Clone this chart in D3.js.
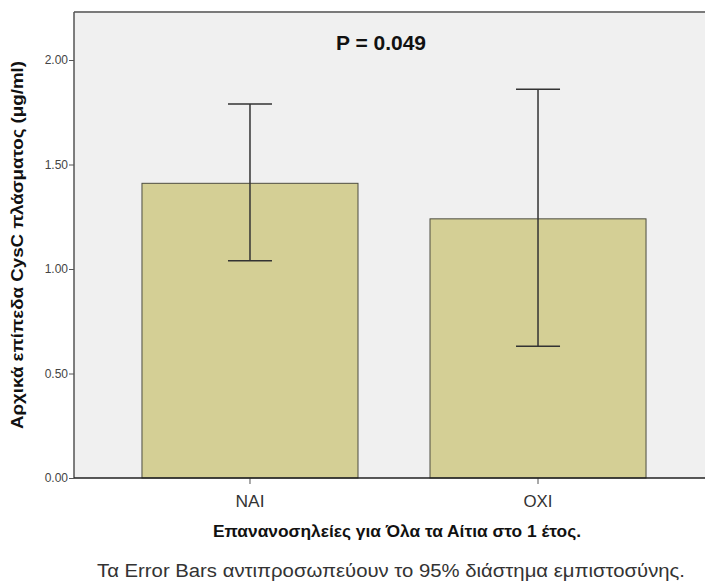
<!DOCTYPE html>
<html><head><meta charset="utf-8">
<script src="https://cdn.jsdelivr.net/npm/d3@7/dist/d3.min.js"></script>
<style>body{margin:0;background:#fff;} svg{display:block;font-family:"Liberation Sans",Arial,sans-serif;}</style>
</head><body><div id="chart"></div>
<script>
const categories = ["NAI", "OXI"];
const means = [1.41, 1.24];
const ciLow = [1.04, 0.63];
const ciHigh = [1.79, 1.86];
const yTicks = [0, 0.5, 1.0, 1.5, 2.0];
const titleText = "P = 0.049";
const yTitle = "Αρχικά επίπεδα CysC πλάσματος (μg/ml)";
const xTitle = "Επανανοσηλείες για Όλα τα Αίτια στο 1 έτος.";
const footnote = "Τα Error Bars αντιπροσωπεύουν το 95% διάστημα εμπιστοσύνης.";

(function(){
const W = 705, H = 581;
const svg = d3.select("#chart").append("svg").attr("width", W).attr("height", H);
const pL = 74, pT = 12, pB = 478, pR = 714;

const y = d3.scaleLinear().domain([0, 2]).range([pB, 60]);
const x = d3.scaleBand().domain(categories).range([pL, pR]).paddingInner(0.25).paddingOuter(0.236);

svg.append("rect").attr("x", pL).attr("y", pT).attr("width", W - pL).attr("height", pB - pT).attr("fill", "#f0f0f0");
svg.append("line").attr("x1", pL).attr("x2", W).attr("y1", pT).attr("y2", pT).attr("stroke", "#7a7a7a").attr("stroke-width", 2);

const data = categories.map((c, i) => ({c, m: means[i], lo: ciLow[i], hi: ciHigh[i]}));

svg.selectAll(".bar").data(data).enter().append("rect")
  .attr("x", d => x(d.c)).attr("y", d => y(d.m))
  .attr("width", x.bandwidth()).attr("height", d => y(0) - y(d.m))
  .attr("fill", "#d4cf95").attr("stroke", "#4d4d40").attr("stroke-width", 1);

const eb = svg.selectAll(".eb").data(data).enter().append("g").attr("stroke", "#333").attr("stroke-width", 1.5);
const cx = d => x(d.c) + x.bandwidth()/2;
eb.append("line").attr("x1", cx).attr("x2", cx).attr("y1", d => y(d.lo)).attr("y2", d => y(d.hi));
eb.append("line").attr("x1", d => cx(d) - 22).attr("x2", d => cx(d) + 22).attr("y1", d => y(d.lo)).attr("y2", d => y(d.lo));
eb.append("line").attr("x1", d => cx(d) - 22).attr("x2", d => cx(d) + 22).attr("y1", d => y(d.hi)).attr("y2", d => y(d.hi));

// y axis
const ya = svg.append("g").attr("transform", `translate(${pL},0)`)
  .call(d3.axisLeft(y).tickValues(yTicks).tickFormat(d3.format(".2f")).tickSize(5).tickSizeOuter(0));
ya.select(".domain").remove();
ya.append("line").attr("x1", 0).attr("x2", 0).attr("y1", pT).attr("y2", pB).attr("stroke", "#555").attr("stroke-width", 1.5);
ya.selectAll(".tick line").attr("stroke", "#555");
ya.selectAll(".tick text").attr("fill", "#444").attr("font-size", 12).attr("font-family", "Liberation Sans, Arial, sans-serif").attr("x", -6);

// x axis
const xa = svg.append("g").attr("transform", `translate(0,${pB})`)
  .call(d3.axisBottom(x).tickSize(6).tickSizeOuter(0));
xa.select(".domain").remove();
xa.append("line").attr("x1", pL).attr("x2", W).attr("y1", 0).attr("y2", 0).attr("stroke", "#222").attr("stroke-width", 1.5);
xa.selectAll(".tick line").attr("stroke", "#555");
xa.selectAll(".tick text").attr("fill", "#333").attr("font-size", 16).attr("font-family", "Liberation Sans, Arial, sans-serif")
  .attr("y", 0).attr("dy", 29).attr("textLength", 29).attr("lengthAdjust", "spacingAndGlyphs");

svg.append("text").attr("x", 381).attr("y", 50).attr("text-anchor", "middle")
  .attr("font-size", 21).attr("font-weight", "bold").attr("fill", "#111").text(titleText);

svg.append("text").attr("transform", "translate(23,245) rotate(-90)").attr("text-anchor", "middle")
  .attr("font-size", 17).attr("font-weight", "bold").attr("fill", "#111")
  .attr("textLength", 368).attr("lengthAdjust", "spacingAndGlyphs").text(yTitle);

svg.append("text").attr("x", 397).attr("y", 537).attr("text-anchor", "middle")
  .attr("font-size", 17).attr("font-weight", "bold").attr("fill", "#111")
  .attr("textLength", 368).attr("lengthAdjust", "spacingAndGlyphs").text(xTitle);

svg.append("text").attr("x", 97).attr("y", 577).attr("text-anchor", "start")
  .attr("font-size", 18).attr("fill", "#333")
  .attr("textLength", 588).attr("lengthAdjust", "spacingAndGlyphs").text(footnote);
})();
</script></body></html>
